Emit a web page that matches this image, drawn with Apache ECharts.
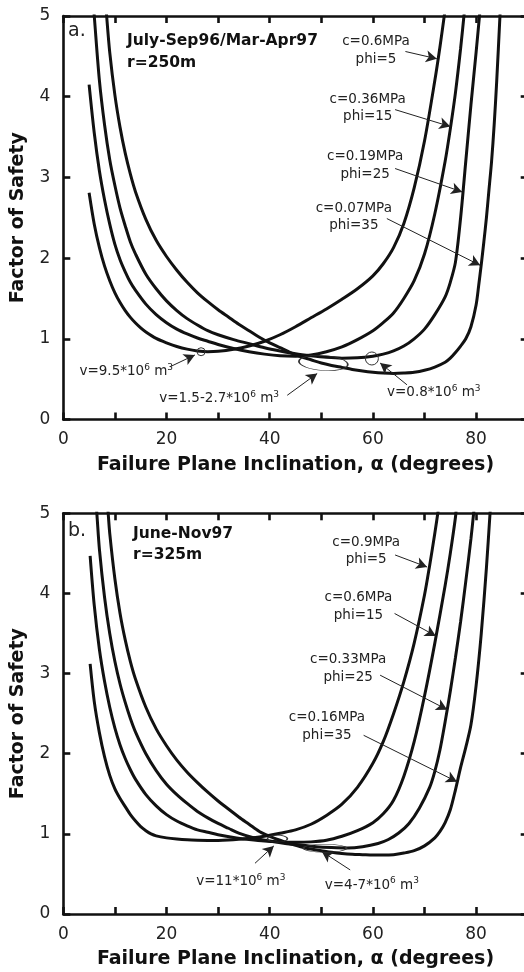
<!DOCTYPE html>
<html><head><meta charset="utf-8">
<script src="https://cdn.jsdelivr.net/npm/echarts@6.0.0/dist/echarts.min.js"></script>
<style>html,body{margin:0;padding:0;background:#fff}#c{width:524px;height:972px}</style>
</head><body><div id="c"></div><script>
// ---------- DATA ----------
const xTickValues = [0, 20, 40, 60, 80];
const yTickValues = [0, 1, 2, 3, 4, 5];
const xTitle = 'Failure Plane Inclination, \u03b1 (degrees)';
const yTitle = 'Factor of Safety';

// Panel a: July-Sep96/Mar-Apr97, r=250m
const aLabels = ['c=0.6MPa\nphi=5', 'c=0.36MPa\nphi=15', 'c=0.19MPa\nphi=25', 'c=0.07MPa\nphi=35'];
const aCurve1 = [[5,2.81],[6,2.42],[7,2.13],[8,1.9],[9,1.72],[10,1.57],[11,1.45],[12,1.35],[13,1.265],[14,1.195],[15,1.135],[16,1.085],[18,1.005],[20,0.95],[22,0.905],[24,0.872],[26,0.85],[28,0.84],[30,0.845],[33,0.87],[36,0.91],[39,0.97],[42,1.05],[45,1.15],[48,1.26],[51,1.37],[54,1.49],[57,1.62],[60,1.78],[62,1.93],[64,2.13],[66,2.43],[68,2.87],[70,3.45],[72,4.2],[73,4.62],[74,5.08]];
const aCurve2 = [[5,4.15],[6,3.55],[7,3.08],[8,2.72],[9,2.42],[10,2.17],[11,1.98],[12,1.83],[13,1.7],[14,1.6],[16,1.43],[18,1.3],[20,1.2],[22,1.12],[24,1.06],[26,1.01],[28,0.97],[30,0.93],[33,0.88],[36,0.84],[39,0.81],[42,0.79],[45,0.785],[48,0.8],[51,0.84],[54,0.9],[57,0.99],[60,1.1],[62,1.2],[64,1.32],[66,1.5],[68,1.72],[70,2.05],[72,2.55],[74,3.2],[75,3.6],[76,4.05],[77,4.6],[77.8,5.1]];
const aCurve3 = [[5.85,5.12],[6,5.0],[7,4.2],[8,3.65],[9,3.22],[10,2.9],[11,2.62],[12,2.4],[13,2.2],[14,2.05],[16,1.8],[18,1.62],[20,1.47],[22,1.35],[24,1.25],[26,1.17],[28,1.1],[30,1.05],[33,0.99],[36,0.94],[39,0.89],[42,0.85],[45,0.815],[48,0.79],[51,0.77],[54,0.76],[57,0.765],[60,0.785],[62,0.81],[64,0.85],[66,0.91],[68,1.0],[70,1.12],[72,1.3],[74,1.52],[75,1.7],[76,1.95],[77,2.5],[78,3.2],[79,3.9],[80,4.55],[80.8,5.1]];
const aCurve4 = [[8.25,5.15],[8.4,5.0],[9,4.55],[10,4.02],[11,3.62],[12,3.3],[13,3.04],[14,2.82],[16,2.48],[18,2.22],[20,2.02],[22,1.85],[24,1.7],[26,1.57],[28,1.46],[30,1.36],[32,1.27],[34,1.18],[36,1.1],[38,1.02],[40,0.95],[42,0.89],[44,0.83],[46,0.78],[48,0.74],[50,0.7],[52,0.67],[54,0.645],[56,0.62],[58,0.6],[60,0.585],[62,0.575],[64,0.57],[66,0.575],[68,0.585],[70,0.61],[72,0.65],[74,0.71],[75,0.76],[76,0.83],[77,0.91],[78,1.0],[79,1.15],[80,1.42],[80.5,1.66],[81,1.92],[81.5,2.2],[82,2.5],[82.5,2.85],[83,3.2],[83.5,3.65],[84,4.2],[84.7,5.1]];

// Panel b: June-Nov97, r=325m
const bLabels = ['c=0.9MPa\nphi=5', 'c=0.6MPa\nphi=15', 'c=0.33MPa\nphi=25', 'c=0.16MPa\nphi=35'];
const bCurve1 = [[5.2,3.12],[6,2.65],[7,2.26],[8,1.96],[9,1.73],[10,1.56],[11,1.44],[12,1.34],[13,1.24],[14,1.16],[15,1.09],[16,1.04],[17,1.0],[18,0.975],[20,0.95],[22,0.935],[24,0.925],[26,0.92],[28,0.918],[30,0.918],[32,0.922],[34,0.932],[36,0.946],[38,0.962],[40,0.983],[42,1.008],[45,1.05],[48,1.12],[51,1.23],[54,1.37],[57,1.58],[60,1.88],[62,2.15],[64,2.5],[66,2.9],[68,3.38],[70,3.98],[71,4.35],[72,4.75],[72.8,5.1]];
const bCurve2 = [[5.2,4.47],[6,3.85],[7,3.3],[8,2.9],[9,2.58],[10,2.32],[11,2.11],[12,1.94],[13,1.8],[14,1.68],[16,1.49],[18,1.35],[20,1.24],[22,1.16],[24,1.1],[26,1.05],[28,1.02],[30,0.99],[33,0.955],[36,0.93],[39,0.91],[42,0.9],[45,0.895],[48,0.9],[51,0.92],[54,0.97],[57,1.04],[60,1.14],[62,1.25],[64,1.42],[66,1.72],[68,2.15],[70,2.72],[72,3.38],[74,4.1],[75,4.5],[76,4.95],[76.2,5.1]];
const bCurve3 = [[6.3,5.15],[6.5,5.0],[7,4.55],[8,3.95],[9,3.5],[10,3.15],[11,2.87],[12,2.64],[13,2.44],[14,2.27],[16,2.0],[18,1.79],[20,1.62],[22,1.49],[24,1.38],[26,1.28],[28,1.2],[30,1.13],[32,1.07],[34,1.01],[37,0.95],[40,0.91],[43,0.88],[46,0.86],[49,0.84],[52,0.83],[55,0.825],[58,0.84],[61,0.88],[63,0.93],[65,1.01],[67,1.13],[69,1.32],[71,1.58],[72,1.78],[73,2.05],[74,2.4],[75,2.78],[76,3.2],[77,3.65],[78,4.15],[79,4.68],[79.6,5.05]];
const bCurve4 = [[8.55,5.15],[8.7,5.0],[9,4.75],[10,4.18],[11,3.75],[12,3.42],[13,3.15],[14,2.93],[16,2.58],[18,2.31],[20,2.1],[22,1.92],[24,1.77],[26,1.64],[28,1.52],[30,1.41],[32,1.31],[34,1.21],[36,1.12],[38,1.03],[40,0.97],[42,0.92],[44,0.875],[46,0.84],[48,0.81],[50,0.79],[52,0.77],[54,0.755],[56,0.745],[58,0.74],[60,0.735],[62,0.735],[64,0.74],[66,0.76],[68,0.79],[70,0.85],[72,0.95],[73,1.03],[74,1.14],[75,1.3],[76,1.55],[77,1.83],[78,2.08],[79,2.36],[80,2.85],[81,3.5],[82,4.32],[82.8,5.1]];

// ---------- STYLE / LAYOUT ----------
const FONT = 'DejaVu Sans';
const INK = '#111';
const TXT = '#222';
const grids = [
  {left: 63.3, top: 16, width: 464.4, height: 403.5},
  {left: 63.3, top: 513.3, width: 464.4, height: 400.7}
];

function xAxes(g) {
  const common = {
    type: 'value', gridIndex: g, min: 0, max: 90, interval: 10,
    splitLine: {show: false},
    axisLine: {show: true, onZero: false, lineStyle: {color: INK, width: 2.6}},
    axisTick: {show: true, inside: true, length: 7, lineStyle: {color: INK, width: 2.6}}
  };
  return [
    Object.assign({}, common, {
      position: 'bottom',
      axisLabel: {show: true, margin: 12, fontSize: 17, fontFamily: FONT, color: TXT,
        formatter: v => xTickValues.indexOf(v) >= 0 ? String(v) : ''},
      name: xTitle, nameLocation: 'middle', nameGap: 36,
      nameTextStyle: {fontFamily: FONT, fontWeight: 'bold', fontSize: 19, color: INK}
    }),
    Object.assign({}, common, {position: 'top', axisLabel: {show: false}})
  ];
}
function yAxes(g) {
  const common = {
    type: 'value', gridIndex: g, min: 0, max: 5, interval: 1,
    splitLine: {show: false},
    axisLine: {show: true, onZero: false, lineStyle: {color: INK, width: 2.6}},
    axisTick: {show: true, inside: true, length: 7, lineStyle: {color: INK, width: 2.6}}
  };
  return [
    Object.assign({}, common, {
      position: 'left',
      axisLabel: {show: true, margin: 13, fontSize: 17, fontFamily: FONT, color: TXT,
        formatter: v => yTickValues.indexOf(v) >= 0 ? String(v) : ''},
      name: yTitle, nameLocation: 'middle', nameGap: 36,
      nameTextStyle: {fontFamily: FONT, fontWeight: 'bold', fontSize: 19, color: INK}
    }),
    Object.assign({}, common, {position: 'right', axisLabel: {show: false}})
  ];
}

function textPt(coord, text) {
  return {
    coord: coord, symbol: 'circle', symbolSize: 1,
    itemStyle: {color: 'rgba(0,0,0,0)'},
    label: {show: true, position: 'inside', formatter: text, fontFamily: FONT, fontSize: 13.5,
      lineHeight: 17.6, color: TXT, align: 'center', verticalAlign: 'middle',
      rich: {
        n: {fontFamily: FONT, fontSize: 13.5, lineHeight: 17, color: TXT},
        s: {fontFamily: FONT, fontSize: 9, lineHeight: 9, color: TXT, verticalAlign: 'top'}
      }}
  };
}
function ring(coord, w, h, rot) {
  return {coord: coord, symbol: 'circle', symbolSize: [w, h], symbolRotate: rot || 0,
    itemStyle: {color: 'rgba(0,0,0,0)', borderColor: '#333', borderWidth: 1},
    label: {show: false}};
}
function arrow(a, b) { return [{coord: a}, {coord: b}]; }

function curve(data, xi, yi, marks) {
  const s = {
    type: 'line', data: data, xAxisIndex: xi, yAxisIndex: yi,
    smooth: 0.3, showSymbol: false, symbol: 'none', clip: true, silent: true,
    lineStyle: {color: INK, width: 3}
  };
  if (marks) {
    s.markPoint = {silent: true, animation: false, data: marks.points};
    s.markLine = {silent: true, animation: false, symbol: ['none', 'arrow'], symbolSize: [9, 11],
      label: {show: false}, lineStyle: {color: '#222', width: 1, type: 'solid'},
      emphasis: {disabled: true}, data: marks.lines};
  }
  return s;
}
function vol(v) { return '{n|v=' + v + '*10}{s|6}{n| m}{s|3}'; }

const marksA = {
  points: [
    textPt([60.6, 4.57], aLabels[0]),
    textPt([59.0, 3.86], aLabels[1]),
    textPt([58.5, 3.15], aLabels[2]),
    textPt([56.3, 2.51], aLabels[3]),
    textPt([12.2, 0.59], vol('9.5')),
    textPt([30.2, 0.26], vol('1.5-2.7')),
    textPt([71.8, 0.33], vol('0.8')),
    ring([26.7, 0.84], 8, 8),
    ring([50.4, 0.70], 49, 15, -4),
    ring([59.8, 0.756], 13, 13)
  ],
  lines: [
    arrow([66.3, 4.56], [72.4, 4.47]),
    arrow([64.3, 3.84], [75.0, 3.63]),
    arrow([64.3, 3.11], [77.3, 2.82]),
    arrow([62.7, 2.49], [80.8, 1.91]),
    arrow([20.7, 0.654], [25.5, 0.80]),
    arrow([43.4, 0.30], [49.2, 0.57]),
    arrow([66.6, 0.43], [61.4, 0.70])
  ]
};
const marksB = {
  points: [
    textPt([58.7, 4.53], bLabels[0]),
    textPt([57.2, 3.84], bLabels[1]),
    textPt([55.2, 3.06], bLabels[2]),
    textPt([51.1, 2.34], bLabels[3]),
    textPt([34.4, 0.40], vol('11')),
    textPt([59.8, 0.36], vol('4-7')),
    ring([41.5, 0.94], 20, 7),
    ring([50.7, 0.82], 43, 8)
  ],
  lines: [
    arrow([64.3, 4.48], [70.5, 4.33]),
    arrow([64.2, 3.75], [72.2, 3.47]),
    arrow([61.4, 2.98], [74.4, 2.55]),
    arrow([58.2, 2.23], [76.3, 1.65]),
    arrow([37.15, 0.633], [40.8, 0.85]),
    arrow([55.6, 0.55], [50.1, 0.78])
  ]
};

const option = {
  animation: false,
  backgroundColor: '#fff',
  grid: grids.map(g => Object.assign({containLabel: false, outerBoundsMode: 'none'}, g)),
  xAxis: xAxes(0).concat(xAxes(1)),
  yAxis: yAxes(0).concat(yAxes(1)),
  series: [
    curve(aCurve1, 0, 0, marksA), curve(aCurve2, 0, 0), curve(aCurve3, 0, 0), curve(aCurve4, 0, 0),
    curve(bCurve1, 2, 2, marksB), curve(bCurve2, 2, 2), curve(bCurve3, 2, 2), curve(bCurve4, 2, 2)
  ],
  graphic: [
    {type: 'text', left: 68, top: 22, style: {text: 'a.', font: '19px "DejaVu Sans"', fill: TXT}},
    {type: 'text', left: 127, top: 30, style: {text: 'July-Sep96/Mar-Apr97\nr=250m', font: 'bold 15.5px "DejaVu Sans"', lineHeight: 22, fill: INK}},
    {type: 'text', left: 68, top: 522, style: {text: 'b.', font: '19px "DejaVu Sans"', fill: TXT}},
    {type: 'text', left: 133, top: 523, style: {text: 'June-Nov97\nr=325m', font: 'bold 15.5px "DejaVu Sans"', lineHeight: 21.5, fill: INK}}
  ]
};
const chart = echarts.init(document.getElementById('c'), null, {renderer: 'canvas'});
chart.setOption(option);
</script></body></html>
